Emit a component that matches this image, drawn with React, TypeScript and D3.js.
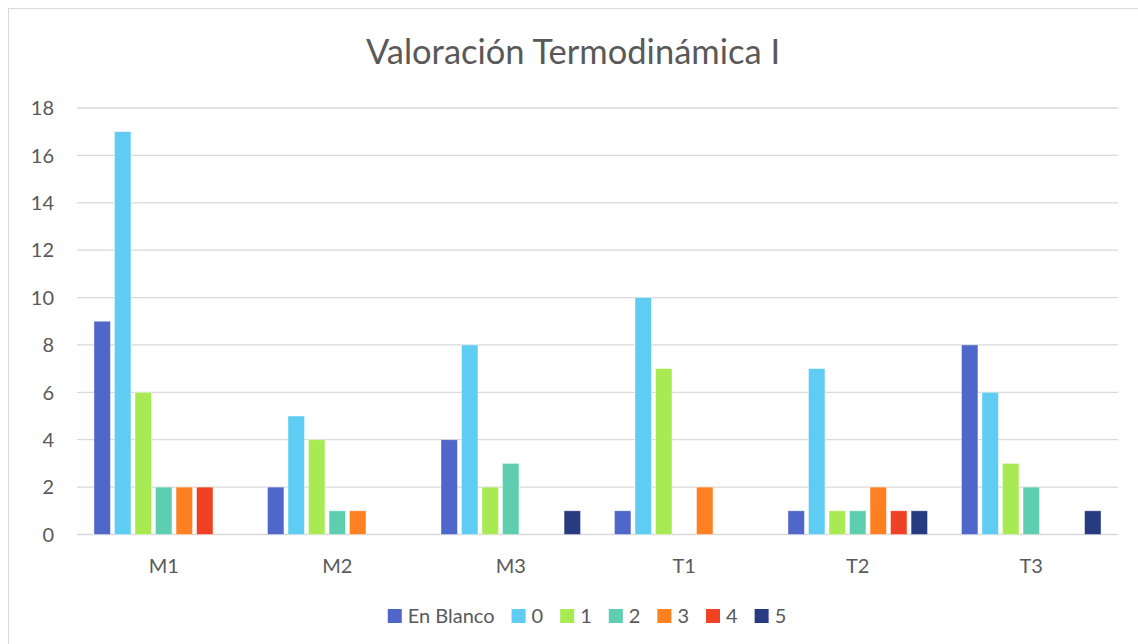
import * as d3 from "d3"
import React, { useEffect, useRef } from "react"

const categories = ["M1", "M2", "M3", "T1", "T2", "T3"]
const seriesNames = ["En Blanco", "0", "1", "2", "3", "4", "5"]
const seriesColors = ["#4E67C8", "#5ECCF3", "#A7EA52", "#5DCEAF", "#FF8021", "#F14124", "#263B80"]
// values[s][c] : series s, category c
const enBlanco = [9, 2, 4, 1, 1, 8]
const cero = [17, 5, 8, 10, 7, 6]
const uno = [6, 4, 2, 7, 1, 3]
const dos = [2, 1, 3, 0, 1, 2]
const tres = [2, 1, 0, 2, 2, 0]
const cuatro = [2, 0, 0, 0, 1, 0]
const cinco = [0, 0, 1, 0, 1, 1]
const values = [enBlanco, cero, uno, dos, tres, cuatro, cinco]
const yTicks = [0, 2, 4, 6, 8, 10, 12, 14, 16, 18]

const font = "Lato, 'Open Sans', sans-serif"
const textColor = "#595959"

const App = () => {
    const refSvg = useRef<SVGSVGElement>(null)

    useEffect(() => {
        const svg = d3.select(refSvg.current)
        svg.selectAll("*").remove()

        const left = 77, right = 1118, top = 108, bottom = 534.5

        // chart border
        svg.append("rect")
            .attr("x", 8.5).attr("y", 8.5)
            .attr("width", 1160).attr("height", 700)
            .attr("fill", "#fff")
            .attr("stroke", "#d9d9d9")
            .attr("stroke-width", 1)

        const scaleX = d3.scaleBand().domain(categories).range([left, right])
        const scaleInner = d3.scaleBand<number>()
            .domain(d3.range(seriesNames.length))
            .range([17, scaleX.bandwidth() - 17])
            .paddingInner(0.2)
        const scaleY = d3.scaleLinear().domain([0, 18]).range([bottom, top])

        // grid
        svg.append("g").selectAll("line")
            .data(yTicks)
            .join("line")
            .attr("x1", left).attr("x2", right)
            .attr("y1", d => scaleY(d)).attr("y2", d => scaleY(d))
            .attr("stroke", "#d9d9d9")
            .attr("stroke-width", 1.3)

        // y labels
        svg.append("g").selectAll("text")
            .data(yTicks)
            .join("text")
            .attr("x", 54)
            .attr("y", d => scaleY(d))
            .attr("dy", "0.36em")
            .attr("text-anchor", "end")
            .attr("font-family", font)
            .attr("font-size", 20)
            .attr("fill", textColor)
            .text(d => d)

        // bars
        const gBars = svg.append("g")
        values.forEach((vals, s) => {
            gBars.selectAll(`.bar-${s}`)
                .data(vals.map((v, c) => ({ v, c })).filter(d => d.v > 0))
                .join("rect")
                .attr("class", `bar-${s}`)
                .attr("x", d => (scaleX(categories[d.c]) as number) + (scaleInner(s) as number))
                .attr("width", scaleInner.bandwidth())
                .attr("y", d => scaleY(d.v))
                .attr("height", d => scaleY(0) - scaleY(d.v))
                .attr("fill", seriesColors[s])
                .attr("stroke", "#ffffff")
                .attr("stroke-opacity", 0.5)
                .attr("stroke-width", 0.75)
        })

        // category labels
        svg.append("g").selectAll("text")
            .data(categories)
            .join("text")
            .attr("x", d => (scaleX(d) as number) + scaleX.bandwidth() / 2)
            .attr("y", 573)
            .attr("text-anchor", "middle")
            .attr("font-family", font)
            .attr("font-size", 20)
            .attr("fill", textColor)
            .text(d => d)

        // title
        svg.append("text")
            .attr("x", 573)
            .attr("y", 64)
            .attr("text-anchor", "middle")
            .attr("font-family", font)
            .attr("font-size", 34.5)
            .attr("fill", textColor)
            .text("Valoración Termodinámica I")

        // legend
        const gLegend = svg.append("g")
        let x = 0
        seriesNames.forEach((name, i) => {
            gLegend.append("rect")
                .attr("x", x).attr("y", 609)
                .attr("width", 14).attr("height", 14)
                .attr("fill", seriesColors[i])
            const t = gLegend.append("text")
                .attr("x", x + 20)
                .attr("y", 623)
                .attr("font-family", font)
                .attr("font-size", 20)
                .attr("fill", textColor)
                .text(name)
            const w = (t.node() as SVGTextElement).getComputedTextLength()
            x += 20 + w + 17
        })
        const legendWidth = x - 17
        gLegend.attr("transform", `translate(${587 - legendWidth / 2}, 0)`)
    }, [])

    return (
        <svg ref={refSvg} width={1138} height={644}
            style={{ position: "absolute", left: 0, top: 0, display: "block" }}></svg>
    )
}

export default App
